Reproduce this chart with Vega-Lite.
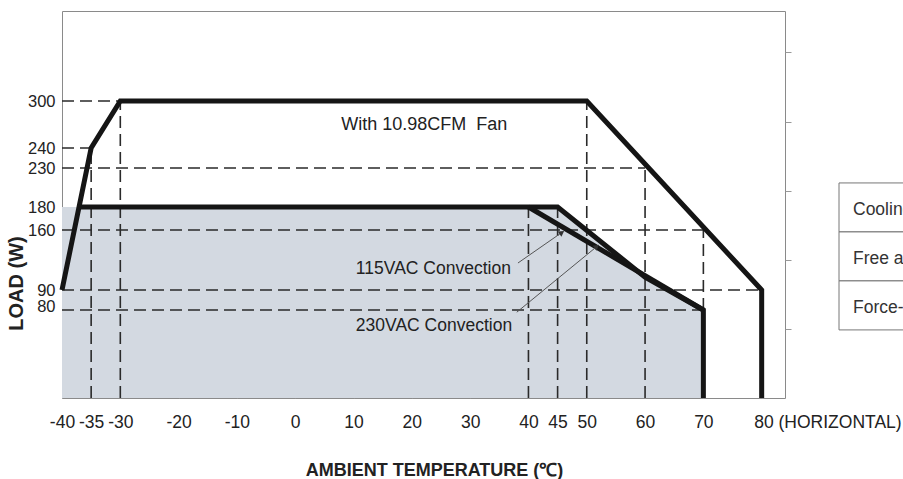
{
  "$schema": "https://vega.github.io/schema/vega-lite/v6.json",
  "padding": {"left": 5, "top": 10, "right": 0, "bottom": 0},
  "bounds": "flush",
  "config": {
    "font": "Liberation Sans, Arial, sans-serif",
    "view": {"stroke": "#8a8a8a", "strokeWidth": 1},
    "axis": {"labelColor": "#222", "titleColor": "#222", "grid": false}
  },
  "datasets": {
    "area": [
      {"t": -40, "w": 180},
      {"t": 45, "w": 180},
      {"t": 60, "w": 105},
      {"t": 70, "w": 80}
    ],
    "dash": [
      {"t1": -40, "t2": -30, "w1": 300, "w2": 300},
      {"t1": -40, "t2": -35, "w1": 240, "w2": 240},
      {"t1": -40, "t2": 60, "w1": 230, "w2": 230},
      {"t1": -40, "t2": 70, "w1": 160, "w2": 160},
      {"t1": -40, "t2": 80, "w1": 90, "w2": 90},
      {"t1": -40, "t2": 70, "w1": 80, "w2": 80},
      {"t1": -35, "t2": -35, "w1": 0, "w2": 240},
      {"t1": -30, "t2": -30, "w1": 0, "w2": 300},
      {"t1": 40, "t2": 40, "w1": 0, "w2": 180},
      {"t1": 45, "t2": 45, "w1": 0, "w2": 180},
      {"t1": 50, "t2": 50, "w1": 0, "w2": 300},
      {"t1": 60, "t2": 60, "w1": 0, "w2": 230},
      {"t1": 70, "t2": 70, "w1": 80, "w2": 160}
    ],
    "curves": [
      {"series": "fan", "i": 0, "t": -40, "w": 90},
      {"series": "fan", "i": 1, "t": -35, "w": 240},
      {"series": "fan", "i": 2, "t": -30, "w": 300},
      {"series": "fan", "i": 3, "t": 50, "w": 300},
      {"series": "fan", "i": 4, "t": 80, "w": 90},
      {"series": "fan", "i": 5, "t": 80, "w": 0},
      {"series": "conv_a", "i": 0, "t": 40, "w": 180},
      {"series": "conv_a", "i": 1, "t": 70, "w": 80},
      {"series": "conv_b", "i": 0, "t": -37, "w": 180},
      {"series": "conv_b", "i": 1, "t": 45, "w": 180},
      {"series": "conv_b", "i": 2, "t": 60, "w": 105},
      {"series": "conv_b", "i": 3, "t": 70, "w": 80},
      {"series": "conv_b", "i": 4, "t": 70, "w": 0}
    ],
    "notes": [
      {"t": 7.9, "w": 269, "text": "With 10.98CFM \u00a0Fan", "size": 18},
      {"t": 10.4, "w": 114.5, "text": "115VAC Convection", "size": 17.5},
      {"t": 10.4, "w": 65.5, "text": "230VAC Convection", "size": 17.5}
    ],
    "arrows": [
      {"t1": 38.2, "w1": 121.5, "t2": 45.6, "w2": 156.5, "angle": 55},
      {"t1": 38.0, "w1": 78, "t2": 51.6, "w2": 140, "angle": 51}
    ],
    "rticks": [{"r": 0}, {"r": 5.6}],
    "table": [
      {"row": 0, "row_end": 1, "mid": 0.5, "label": "Cooling method"},
      {"row": 1, "row_end": 2, "mid": 1.5, "label": "Free air convection"},
      {"row": 2, "row_end": 3, "mid": 2.5, "label": "Force-cooled"}
    ]
  },
  "spacing": 54,
  "hconcat": [
    {
      "width": 723,
      "height": 387,
      "resolve": {"scale": {"y": "independent"}},
      "layer": [
        {
          "layer": [
            {
              "data": {"name": "area"},
              "mark": {"type": "area", "color": "#d3d9e1", "opacity": 1},
              "encoding": {
                "x": {
                  "field": "t", "type": "quantitative",
                  "scale": {"domain": [-40, 84], "nice": false, "zero": false},
                  "axis": {
                    "values": [-40, -35, -30, -20, -10, 0, 10, 20, 30, 40, 45, 50, 60, 70, 80],
                    "labelExpr": "datum.value == 80 ? '80 (HORIZONTAL)' : '' + datum.value",
                    "labelAlign": {"condition": {"test": "datum.value == 80", "value": "left"}, "value": "center"},
                    "labelOffset": {"condition": {"test": "datum.value == 80", "value": -8}, "value": 0},
                    "labelFontSize": 17.5,
                    "labelBaseline": "alphabetic",
                    "labelPadding": 35,
                    "labelOverlap": false,
                    "labelFlush": false,
                    "tickSize": -6,
                    "tickColor": "#999",
                    "domain": false,
                    "title": "AMBIENT TEMPERATURE (\u2103)",
                    "titleFontSize": 18,
                    "titleFontWeight": "bold",
                    "titleBaseline": "alphabetic",
                    "titleY": 77,
                    "titleX": 372,
                    "titleAlign": "center"
                  }
                },
                "y": {
                  "field": "w", "type": "quantitative",
                  "scale": {
                    "domain": [0, 80, 90, 160, 180, 230, 240, 300, 415],
                    "range": [387, 299, 279, 219, 196, 157, 137, 90, 0]
                  },
                  "axis": {
                    "orient": "left",
                    "values": [80, 90, 160, 180, 230, 240, 300],
                    "ticks": false,
                    "domain": false,
                    "labelFontSize": 16.5,
                    "labelPadding": 7,
                    "labelBaseline": "middle",
                    "labelOffset": {"condition": {"test": "datum.value == 80", "value": -4}, "value": 0},
                    "labelOverlap": false,
                    "labelFlush": false,
                    "title": "LOAD (W)",
                    "titleFontSize": 20,
                    "titleFontWeight": "bold",
                    "titleAngle": -90,
                    "titleX": -40,
                    "titleY": 272,
                    "titleBaseline": "alphabetic",
                    "titleAlign": "center"
                  }
                },
                "y2": {"datum": 0}
              }
            },
            {
              "data": {"name": "dash"},
              "mark": {"type": "rule", "strokeDash": [12, 6], "color": "#2a2a2a", "strokeWidth": 1.6},
              "encoding": {
                "x": {"field": "t1", "type": "quantitative"},
                "x2": {"field": "t2"},
                "y": {"field": "w1", "type": "quantitative"},
                "y2": {"field": "w2"}
              }
            },
            {
              "data": {"name": "curves"},
              "mark": {"type": "line", "strokeWidth": 5, "color": "#151515", "strokeJoin": "miter"},
              "encoding": {
                "x": {"field": "t", "type": "quantitative"},
                "y": {"field": "w", "type": "quantitative"},
                "detail": {"field": "series"},
                "order": {"field": "i", "type": "quantitative"}
              }
            },
            {
              "data": {"name": "arrows"},
              "mark": {"type": "rule", "color": "#555", "strokeWidth": 1},
              "encoding": {
                "x": {"field": "t1", "type": "quantitative"},
                "x2": {"field": "t2"},
                "y": {"field": "w1", "type": "quantitative"},
                "y2": {"field": "w2"}
              }
            },
            {
              "data": {"name": "arrows"},
              "mark": {"type": "point", "shape": "triangle", "filled": true, "size": 40, "color": "#333", "opacity": 1},
              "encoding": {
                "x": {"field": "t2", "type": "quantitative"},
                "y": {"field": "w2", "type": "quantitative"},
                "angle": {"field": "angle", "type": "quantitative", "scale": null}
              }
            },
            {
              "data": {"name": "notes"},
              "mark": {"type": "text", "align": "left", "baseline": "middle", "color": "#222"},
              "encoding": {
                "x": {"field": "t", "type": "quantitative"},
                "y": {"field": "w", "type": "quantitative"},
                "text": {"field": "text"},
                "size": {"field": "size", "type": "quantitative", "scale": null}
              }
            }
          ]
        },
        {
          "data": {"name": "rticks"},
          "mark": {"type": "rule", "strokeWidth": 0, "opacity": 0},
          "encoding": {
            "y": {
              "field": "r", "type": "quantitative",
              "scale": {"domain": [0, 5.6], "nice": false, "zero": false},
              "axis": {
                "orient": "right",
                "values": [1, 2, 3, 4, 5],
                "labels": false,
                "domain": false,
                "ticks": true,
                "tickSize": 6,
                "tickColor": "#999",
                "title": null
              }
            }
          }
        }
      ]
    },
    {
      "width": 200,
      "height": 387,
      "view": {"stroke": null},
      "data": {"name": "table"},
      "layer": [
        {
          "mark": {"type": "rect", "fill": "white", "stroke": "#777", "strokeWidth": 1},
          "encoding": {
            "y": {
              "field": "row", "type": "quantitative",
              "scale": {"domain": [-3.51, 4.39], "reverse": true, "nice": false, "zero": false},
              "axis": null
            },
            "y2": {"field": "row_end"},
            "x": {"datum": 0, "type": "quantitative", "scale": {"domain": [0, 1], "nice": false}, "axis": null},
            "x2": {"datum": 1}
          }
        },
        {
          "mark": {"type": "text", "align": "left", "baseline": "middle", "dx": 14, "dy": 3, "fontSize": 17.5, "color": "#333"},
          "encoding": {
            "y": {"field": "mid", "type": "quantitative"},
            "x": {"datum": 0, "type": "quantitative"},
            "text": {"field": "label"}
          }
        }
      ]
    }
  ]
}
